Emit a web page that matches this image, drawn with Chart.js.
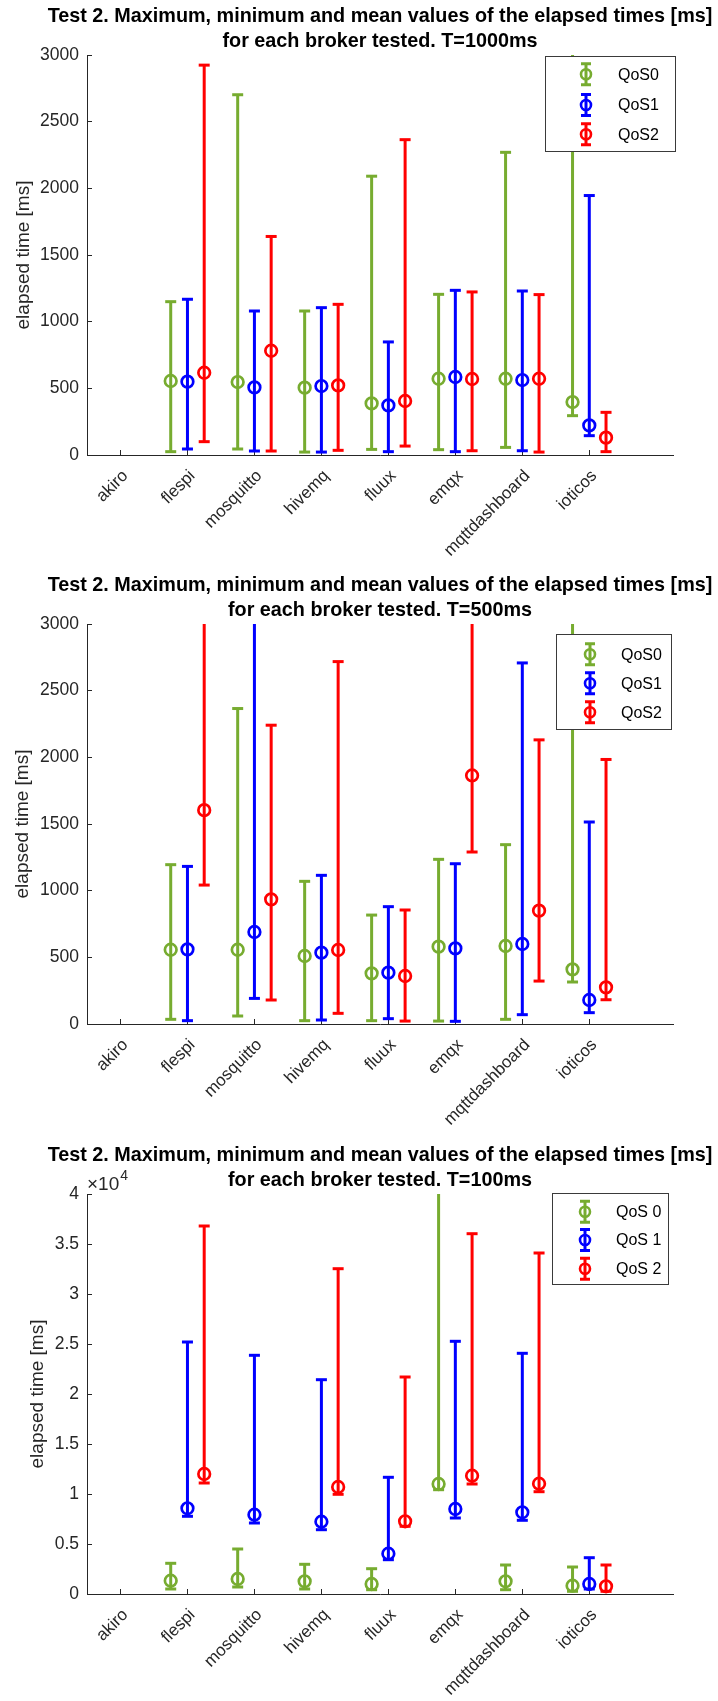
<!DOCTYPE html>
<html><head><meta charset="utf-8">
<script src="https://cdn.jsdelivr.net/npm/chart.js@4.4.1/dist/chart.umd.min.js"></script>
<style>
html,body{margin:0;padding:0;background:#fff;width:718px;height:1701px;overflow:hidden}
.blk{position:absolute;left:0;width:718px}
canvas{display:block}
</style></head><body>
<div class="blk" style="top:0px"><canvas id="c1" width="718" height="569"></canvas></div>
<div class="blk" style="top:569px"><canvas id="c2" width="718" height="569"></canvas></div>
<div class="blk" style="top:1139px"><canvas id="c3" width="718" height="562"></canvas></div>
<script>
// ---------- data ----------
const categories = ['akiro','flespi','mosquitto','hivemq','fluux','emqx','mqttdashboard','ioticos'];
const seriesColors = ['#77AC30','#0000FF','#FF0000'];
const seriesNamesA = ['QoS0','QoS1','QoS2'];
const seriesNamesB = ['QoS 0','QoS 1','QoS 2'];
const titleLine1 = 'Test 2. Maximum, minimum and mean values of the elapsed times [ms]';
const titleLines2 = ['for each broker tested. T=1000ms','for each broker tested. T=500ms','for each broker tested. T=100ms'];
const yAxisLabel = 'elapsed time [ms]';
const yTicksA = [0,500,1000,1500,2000,2500,3000];
const yTicksB = [0,5000,10000,15000,20000,25000,30000,35000,40000];
const yTickLabelsB = ['0','0.5','1','1.5','2','2.5','3','3.5','4'];
const exponentText = ['\u00D710','4'];

// T = 1000 ms
const t1000_q0_mean = [null, 555, 547, 505, 387, 572, 572, 397];
const t1000_q0_min  = [null,  25,  45,  22,  42,  40,  57, 295];
const t1000_q0_max  = [null,1150,2702,1080,2091,1205,2270,3300];
const t1000_q1_mean = [null, 550, 507, 517, 372, 585, 562, 222];
const t1000_q1_min  = [null,  45,  30,  22,  25,  25,  32, 145];
const t1000_q1_max  = [null,1168,1080,1105, 848,1235,1230,1946];
const t1000_q2_mean = [null, 617, 782, 522, 405, 570, 572, 130];
const t1000_q2_min  = [null, 100,  30,  35,  67,  32,  22,  25];
const t1000_q2_max  = [null,2924,1639,1130,2365,1223,1203, 320];

// T = 500 ms
const t500_q0_mean = [null, 557, 557, 510, 380, 580, 585, 410];
const t500_q0_min  = [null,  35,  60,  25,  25,  22,  35, 315];
const t500_q0_max  = [null,1195,2366,1070, 817,1235,1345,3300];
const t500_q1_mean = [null, 560, 690, 535, 385, 567, 600, 180];
const t500_q1_min  = [null,  25, 192,  30,  40,  20,  70,  85];
const t500_q1_max  = [null,1182,3300,1115, 880,1202,2708,1515];
const t500_q2_mean = [null,1604, 935, 555, 360,1864, 850, 275];
const t500_q2_min  = [null,1042, 180,  80,  22,1290, 322, 182];
const t500_q2_max  = [null,3300,2241,2718, 855,3300,2131,1984];

// T = 100 ms
const t100_q0_mean = [null, 1330, 1500, 1270, 1000, 11000, 1270,  830];
const t100_q0_min  = [null,  500,  700,  500,  430, 10430,  430,  270];
const t100_q0_max  = [null, 3070, 4500, 2970, 2530, 43000, 2900, 2700];
const t100_q1_mean = [null, 8570, 7930, 7230, 4030,  8500, 8170, 1000];
const t100_q1_min  = [null, 7770, 7100, 6430, 3430,  7600, 7370,  500];
const t100_q1_max  = [null,25200,23870,21430,11670, 25270,24070, 3630];
const t100_q2_mean = [null,12000, null,10700, 7270, 11830,11030,  770];
const t100_q2_min  = [null,11100, null, 9970, 6770, 11000,10230,  270];
const t100_q2_max  = [null,36800, null,32530,21700, 36030,34100, 2900];

// ---------- helpers ----------
const FONT = '"Liberation Sans", Arial, Helvetica, sans-serif';
const AXIS = '#262626';
const groupOffsets = [-0.25, 0, 0.25];

function rangeDataset(name, color, off, mins, maxs) {
  const pts = [];
  categories.forEach((c, i) => {
    if (mins[i] == null || maxs[i] == null) return;
    const x = i + 1 + off;
    pts.push({x: x, y: mins[i]}, {x: x, y: maxs[i]}, {x: x, y: null});
  });
  return {
    label: name + ' range', data: pts, showLine: true, spanGaps: false,
    borderColor: color, borderWidth: 3, backgroundColor: color,
    pointStyle: 'line', pointRadius: 5.5, pointBorderWidth: 3,
    pointBorderColor: color, pointBackgroundColor: color,
    clip: {left: 20, right: 20, top: 0, bottom: 20}
  };
}
function meanDataset(name, color, off, means) {
  const pts = [];
  categories.forEach((c, i) => {
    if (means[i] == null) return;
    pts.push({x: i + 1 + off, y: means[i]});
  });
  return {
    label: name, data: pts, showLine: false,
    borderColor: color, backgroundColor: 'rgba(0,0,0,0)',
    pointStyle: 'circle', pointRadius: 5.8, pointBorderWidth: 2.7,
    pointBorderColor: color, pointBackgroundColor: 'rgba(0,0,0,0)'
  };
}

const titlePlugin = {
  id: 'mTitle',
  afterDraw(chart) {
    const o = chart.options.plugins.mTitle;
    if (!o) return;
    const ctx = chart.ctx, a = chart.chartArea;
    const cx = (a.left + a.right) / 2;
    ctx.save();
    ctx.fillStyle = '#000';
    ctx.font = 'bold 19.8px ' + FONT;
    ctx.textAlign = 'center'; ctx.textBaseline = 'middle';
    o.lines.forEach((ln, k) => ctx.fillText(ln, cx, o.y[k]));
    ctx.restore();
  }
};
const legendPlugin = {
  id: 'mLegend',
  afterDraw(chart) {
    const o = chart.options.plugins.mLegend;
    if (!o) return;
    const ctx = chart.ctx;
    ctx.save();
    ctx.fillStyle = '#fff';
    ctx.fillRect(o.x1, o.y1, o.x2 - o.x1, o.y2 - o.y1);
    ctx.strokeStyle = '#3a3a3a';
    ctx.lineWidth = 1;
    ctx.strokeRect(Math.round(o.x1) + 0.5, Math.round(o.y1) + 0.5, Math.round(o.x2 - o.x1), Math.round(o.y2 - o.y1));
    const names = chart.data.datasets.slice(0, 3).map(d => d.label);
    const cols = chart.data.datasets.slice(0, 3).map(d => d.borderColor);
    names.forEach((nm, k) => {
      const y = o.rows[k], x = o.markerX, c = cols[k];
      ctx.strokeStyle = c; ctx.lineWidth = 3;
      ctx.beginPath(); ctx.moveTo(x, y - 10.5); ctx.lineTo(x, y + 10.5);
      ctx.moveTo(x - 5, y - 10.5); ctx.lineTo(x + 5, y - 10.5);
      ctx.moveTo(x - 5, y + 10.5); ctx.lineTo(x + 5, y + 10.5); ctx.stroke();
      ctx.lineWidth = 2.6;
      ctx.beginPath(); ctx.arc(x, y, 5, 0, Math.PI * 2); ctx.stroke();
      ctx.fillStyle = '#000';
      ctx.font = '16px ' + FONT;
      ctx.textAlign = 'left'; ctx.textBaseline = 'middle';
      ctx.fillText(nm, o.textX, y + 1);
    });
    ctx.restore();
  }
};
const exponentPlugin = {
  id: 'mExp',
  afterDraw(chart) {
    const o = chart.options.plugins.mExp;
    if (!o || !o.show) return;
    const ctx = chart.ctx, a = chart.chartArea;
    ctx.save();
    ctx.fillStyle = AXIS; ctx.textBaseline = 'middle'; ctx.textAlign = 'left';
    ctx.font = '19px ' + FONT;
    ctx.fillText(exponentText[0], a.left, a.top - 9.5);
    const w = ctx.measureText(exponentText[0]).width;
    ctx.font = '14px ' + FONT;
    ctx.fillText(exponentText[1], a.left + w + 1, a.top - 17.5);
    ctx.restore();
  }
};

function makeChart(id, H, title2, names, means, mins, maxs, yTicks, yLabels, legend, ylabPad, showExp) {
  const datasets = [];
  for (let s = 0; s < 3; s++) datasets.push(meanDataset(names[s], seriesColors[s], groupOffsets[s], means[s]));
  for (let s = 0; s < 3; s++) datasets.push(rangeDataset(names[s], seriesColors[s], groupOffsets[s], mins[s], maxs[s]));
  const yMax = yTicks[yTicks.length - 1];
  return new Chart(document.getElementById(id), {
    type: 'scatter',
    data: {datasets},
    plugins: [legendPlugin, exponentPlugin, titlePlugin],
    options: {
      responsive: false, animation: false, events: [], devicePixelRatio: 1,
      layout: {padding: {left: 0, right: 45, top: 55, bottom: 0}},
      plugins: {
        legend: {display: false}, tooltip: {enabled: false}, title: {display: false},
        mTitle: {lines: [titleLine1, title2], y: [16.5, 41.5]},
        mLegend: legend,
        mExp: {show: showExp}
      },
      scales: {
        x: {
          type: 'linear', position: 'bottom', min: 0.5, max: 9.25,
          afterBuildTicks: (s) => { s.ticks = categories.map((c, i) => ({value: i + 1})); },
          afterFit: (s) => { s.height = H - 455; },
          ticks: {
            autoSkip: false, minRotation: 45, maxRotation: 45, padding: 16, labelOffset: 5,
            color: AXIS, font: {family: FONT, size: 17},
            callback: (v) => categories[Math.round(v) - 1]
          },
          grid: {drawOnChartArea: false, drawTicks: true, tickLength: -5, color: AXIS, lineWidth: 1},
          border: {display: true, color: AXIS, width: 1}
        },
        y: {
          type: 'linear', position: 'left', min: 0, max: yMax,
          afterBuildTicks: (s) => { s.ticks = yTicks.map(v => ({value: v})); },
          afterFit: (s) => { s.width = 87; },
          ticks: {
            padding: 13, color: AXIS, font: {family: FONT, size: 17.5},
            callback: (v) => yLabels ? yLabels[yTicks.indexOf(v)] : String(v)
          },
          title: {display: true, text: yAxisLabel, color: AXIS, font: {family: FONT, size: 19},
                  padding: {top: ylabPad, bottom: 0}},
          grid: {drawOnChartArea: false, drawTicks: true, tickLength: -5, color: AXIS, lineWidth: 1},
          border: {display: true, color: AXIS, width: 1}
        }
      }
    }
  });
}

makeChart('c1', 569, titleLines2[0], seriesNamesA,
  [t1000_q0_mean, t1000_q1_mean, t1000_q2_mean],
  [t1000_q0_min, t1000_q1_min, t1000_q2_min],
  [t1000_q0_max, t1000_q1_max, t1000_q2_max],
  yTicksA, null,
  {x1: 545, y1: 56, x2: 675, y2: 151, rows: [74.3, 105, 134.3], markerX: 586, textX: 618},
  12.6, false);

makeChart('c2', 569, titleLines2[1], seriesNamesA,
  [t500_q0_mean, t500_q1_mean, t500_q2_mean],
  [t500_q0_min, t500_q1_min, t500_q2_min],
  [t500_q0_max, t500_q1_max, t500_q2_max],
  yTicksA, null,
  {x1: 556, y1: 65, x2: 671, y2: 160, rows: [85.3, 114.3, 143.3], markerX: 590, textX: 621},
  11.6, false);

makeChart('c3', 562, titleLines2[2], seriesNamesB,
  [t100_q0_mean, t100_q1_mean, t100_q2_mean],
  [t100_q0_min, t100_q1_min, t100_q2_min],
  [t100_q0_max, t100_q1_max, t100_q2_max],
  yTicksB, yTickLabelsB,
  {x1: 552, y1: 54, x2: 668, y2: 145, rows: [72.7, 101, 129.7], markerX: 585, textX: 616},
  26.6, true);
</script>
</body></html>
